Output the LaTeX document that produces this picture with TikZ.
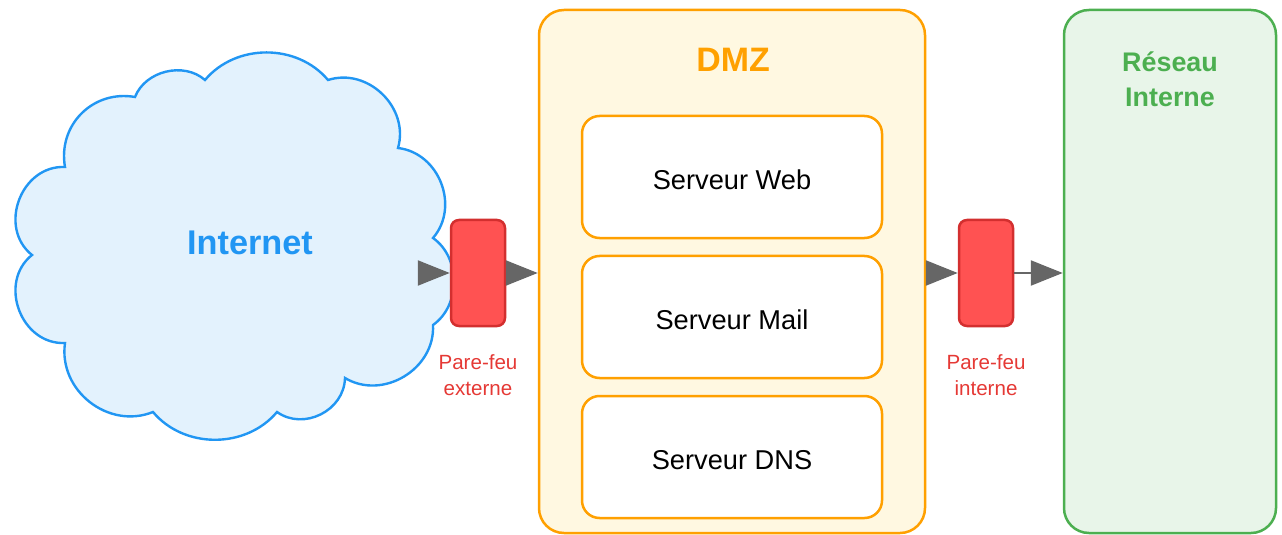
\documentclass[tikz,border=0pt]{standalone}
\usepackage{fontspec}
\setmainfont{Liberation Sans}
\usepackage{xcolor}
\usetikzlibrary{arrows.meta}

\definecolor{cloudfill}{HTML}{E3F2FD}
\definecolor{cloudline}{HTML}{2196F3}
\definecolor{dmzfill}{HTML}{FFF8E1}
\definecolor{dmzline}{HTML}{FFA000}
\definecolor{lanfill}{HTML}{E8F5E9}
\definecolor{lanline}{HTML}{4CAF50}
\definecolor{fwfill}{HTML}{FF5252}
\definecolor{fwline}{HTML}{D32F2F}
\definecolor{fwtext}{HTML}{E53935}
\definecolor{flow}{HTML}{666666}

\tikzset{
  zone/.style={line width=0.5mm, rounded corners=5mm, minimum height=104.6mm},
  server/.style={draw=dmzline, fill=white, line width=0.5mm, rounded corners=3.5mm,
    minimum width=60mm, minimum height=24.4mm, text height=14.5pt, text depth=0pt,
    font=\fontsize{15.5}{18}\selectfont},
  firewall/.style={draw=fwline, fill=fwfill, line width=0.5mm, rounded corners=1.6mm,
    minimum width=10.8mm, minimum height=21.2mm},
  fwlabel/.style={text=fwtext, align=center, font=\fontsize{11.7}{14.7}\selectfont},
  flowarrow/.style={draw=flow, line width=0.45mm, -{Triangle[length=6.4mm,width=5mm]}}
}

\begin{document}
\begin{tikzpicture}[x=0.2mm,y=-0.2mm]
\useasboundingbox (0,0) rectangle (1282,535);

% Internet
\draw[draw=cloudline, fill=cloudfill, line width=0.48mm]
  (135,97) to[bend left=55] (205,80) to[bend left=50] (328,80)
  to[bend left=62, looseness=1.1] (398,148) to[bend left=62, looseness=1.1] (433,238)
  to[bend left=55] (433,325) to[bend left=62, looseness=1.1] (345,378)
  to[bend left=62, looseness=1.1] (277,412) to[bend left=50] (153,412)
  to[bend left=60, looseness=1.1] (65,343) to[bend left=72, looseness=1.2] (32,255)
  to[bend left=72, looseness=1.2] (65,167) to[bend left=55, looseness=1.1] (135,97) -- cycle;
\node[text=cloudline, font=\bfseries\fontsize{19.5}{23}\selectfont] (internet) at (250,243) {Internet};

% DMZ
\node[zone, draw=dmzline, fill=dmzfill, minimum width=77.2mm] (dmz) at (732,271.5) {};
\node[text=dmzline, font=\bfseries\fontsize{19.3}{23}\selectfont] (dmztitle) at (733,60) {DMZ};
\node[server] (web) at (732,177) {Serveur Web};
\node[server] (mail) at (732,317) {Serveur Mail};
\node[server] (dns) at (732,457) {Serveur DNS};

% Reseau interne
\node[zone, draw=lanline, fill=lanfill, minimum width=42.4mm] (lan) at (1170,271.5) {};
\node[text=lanline, align=center, font=\bfseries\fontsize{15.3}{19.8}\selectfont] (lantitle) at (1170,79) {Réseau\\Interne};

% pare-feux
\node[firewall] (fwext) at (478,273) {};
\node[firewall] (fwint) at (986,273) {};
\node[fwlabel] (fwextlabel) at (478,375) {Pare-feu\\externe};
\node[fwlabel] (fwintlabel) at (986,375) {Pare-feu\\interne};

% flux
\coordinate (cloudexit) at (418,273);
\draw[flowarrow] (cloudexit) -- (fwext.west);
\draw[flowarrow] (fwext.east) -- (fwext.east -| dmz.west);
\draw[flowarrow] (fwint.west -| dmz.east) -- (fwint.west);
\draw[flowarrow] (fwint.east) -- (fwint.east -| lan.west);
\end{tikzpicture}
\end{document}
